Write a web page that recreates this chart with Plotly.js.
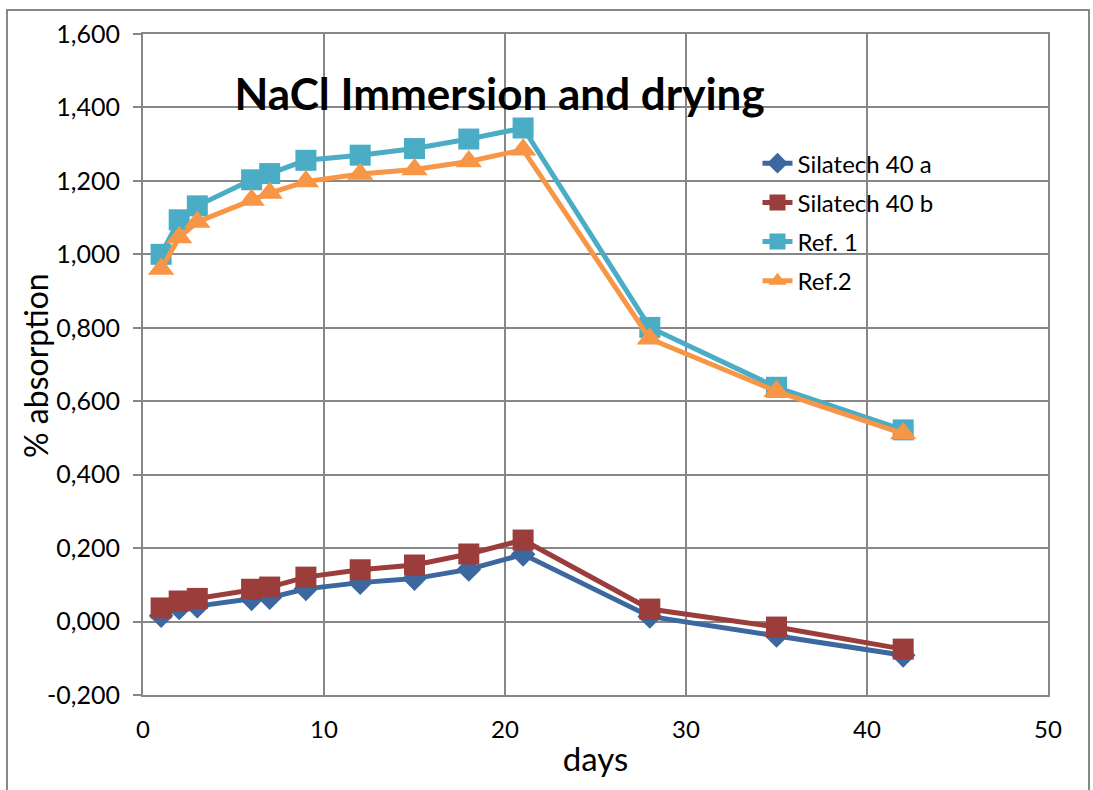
<!DOCTYPE html>
<html>
<head>
<meta charset="utf-8">
<script src="https://cdn.plot.ly/plotly-3.0.1.min.js"></script>
<style>
html,body{margin:0;padding:0;background:#fff;}
#chart{width:1093px;height:790px;}
</style>
</head>
<body>
<div id="chart"></div>
<script>
const days = [1, 2, 3, 6, 7, 9, 12, 15, 18, 21, 28, 35, 42];
const silatechA = [0.016, 0.037, 0.042, 0.062, 0.065, 0.089, 0.106, 0.117, 0.142, 0.183, 0.014, -0.038, -0.092];
const silatechB = [0.037, 0.056, 0.063, 0.088, 0.094, 0.121, 0.141, 0.154, 0.184, 0.222, 0.034, -0.015, -0.075];
const ref1 = [1.000, 1.094, 1.132, 1.203, 1.220, 1.256, 1.270, 1.288, 1.314, 1.344, 0.801, 0.638, 0.522];
const ref2 = [0.960, 1.046, 1.088, 1.148, 1.167, 1.198, 1.219, 1.231, 1.253, 1.285, 0.770, 0.627, 0.512];
const seriesNames = ['Silatech 40 a', 'Silatech 40 b', 'Ref. 1', 'Ref.2'];
const yTickVals = [-0.2, 0, 0.2, 0.4, 0.6, 0.8, 1.0, 1.2, 1.4, 1.6];
const yTickLabels = ['-0,200', '0,000', '0,200', '0,400', '0,600', '0,800', '1,000', '1,200', '1,400', '1,600'];
const xTickVals = [0, 10, 20, 30, 40, 50];
const chartTitle = 'NaCl Immersion and drying';
const xTitle = 'days';
const yTitle = '% absorption';

const FONT = 'Lato, "Open Sans", sans-serif';
const GRID = '#878787';

function trace(y, name, color, symbol, size, group) {
  return {
    x: days, y: y, name: name, type: 'scatter', mode: 'lines+markers',
    legendgroup: group,
    line: {color: color, width: 5},
    marker: {color: color, symbol: symbol, size: size, line: {width: 0}}
  };
}

const data = [
  trace(silatechA, seriesNames[0], '#3D679F', 'diamond', 19, 'a'),
  trace(silatechB, seriesNames[1], '#9B3D3A', 'square', 21, 'b'),
  trace(ref1, seriesNames[2], '#4BACC6', 'square', 21, 'c'),
  trace(ref2, seriesNames[3], '#F79646', 'triangle-up', 23, 'd')
];

const layout = {
  width: 1093, height: 790,
  margin: {l: 143, r: 45, t: 34, b: 95},
  paper_bgcolor: '#ffffff', plot_bgcolor: '#ffffff',
  font: {family: FONT, color: '#000', size: 22},
  showlegend: true,
  title: {
    text: '<b>' + chartTitle + '</b>',
    font: {family: FONT, size: 44, color: '#000'},
    xref: 'paper', yref: 'paper', x: 0.394, y: 0.909,
    xanchor: 'center', yanchor: 'middle'
  },
  legend: {
    x: 0.679, y: 0.838, xanchor: 'left', yanchor: 'top',
    bgcolor: 'rgba(0,0,0,0)', borderwidth: 0,
    font: {family: FONT, size: 24, color: '#000'},
    traceorder: 'grouped', tracegroupgap: 5
  },
  xaxis: {
    range: [0, 50], tickvals: xTickVals,
    showgrid: true, gridcolor: GRID, gridwidth: 2,
    showline: true, linecolor: GRID, linewidth: 2, mirror: true,
    zeroline: false, ticks: '',
    ticklabelstandoff: 12,
    tickfont: {family: FONT, size: 24, color: '#000'},
    title: {text: xTitle, font: {family: FONT, size: 33, color: '#000'}, standoff: 6}
  },
  yaxis: {
    range: [-0.2, 1.6], tickvals: yTickVals, ticktext: yTickLabels,
    showgrid: true, gridcolor: GRID, gridwidth: 2,
    showline: true, linecolor: GRID, linewidth: 2, mirror: true,
    zeroline: false, ticks: 'outside', ticklen: 8, tickcolor: GRID, tickwidth: 2,
    ticklabelstandoff: 8,
    tickfont: {family: FONT, size: 25, color: '#000'}
  },
  annotations: [{
    text: yTitle, xref: 'paper', yref: 'paper',
    x: -0.118, y: 0.498, xanchor: 'center', yanchor: 'middle',
    textangle: -90, showarrow: false,
    font: {family: FONT, size: 32, color: '#000'}
  }],
  shapes: [{
    type: 'rect', xref: 'paper', yref: 'paper',
    x0: -0.1503, x1: 1.0453, y0: -0.2, y1: 1.0363,
    line: {color: GRID, width: 2}, fillcolor: 'rgba(0,0,0,0)', layer: 'below'
  }]
};

Plotly.newPlot('chart', data, layout, {displayModeBar: false, staticPlot: true});
</script>
</body>
</html>
